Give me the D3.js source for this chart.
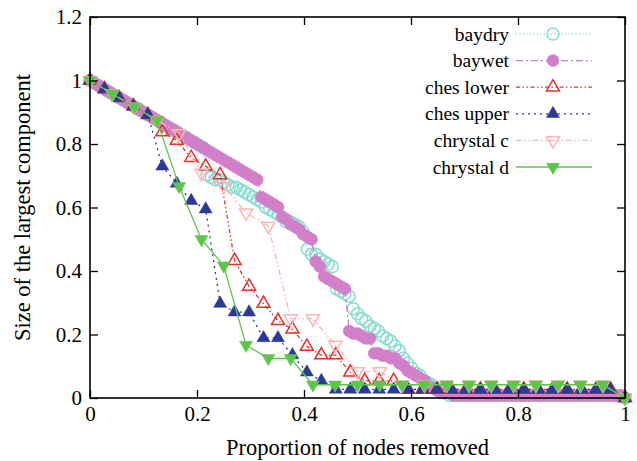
<!DOCTYPE html>
<html>
<head>
<meta charset="utf-8">
<script src="https://cdn.jsdelivr.net/npm/d3@7"></script>
<style>
  body { margin: 0; background: #fff; }
  text { font-family: "Liberation Serif", "Times New Roman", serif; fill: #000; }
</style>
</head>
<body>
<div id="chart"></div>
<script>
// network sizes
const N_BAY = 128;
const N_CHES = 37;
const N_CHRYS = 24;

// size of largest component after each removal
const baydry = [128,127,126,125,124,123,122,121,120,119,118,117,116,115,114,113,112,111,110,109,108,107,106,105,104,103,102,101,
  90,89,88,88,87,86,85,85,84,83,82,81,
  80,79,77,76,75,74,73,71,71,70,69,67,
  60,58,58,56,55,54,53,
  44,43,42,41,
  36,34,32,31,29,28,27,25,24,
  23,21,19,16,14,12,10,9,7,6,5,4,3,2,
  1,1,1,1,1,1,1,1,1,1,1,1,1,1,1,1,1,1,1,1,1,1,1,1,1,1,1,1,1,1,1,1,1,1,1,1,1,1,1,1,1,1,
  0];
const baywet = [128,127,126,125,124,123,122,121,120,119,118,117,116,115,114,113,112,111,110,109,108,107,106,105,104,103,102,101,100,99,98,97,96,95,94,93,92,91,90,89,88,
  81,80,79,78,77,
  73,72,70,69,68,66,65,64,
  55,53,
  49,48,47,46,45,44,
  27,26,26,25,24,24,
  18,18,17,17,16,16,
  14,13,11,10,9,8,7,5,4,3,2,2,2,1,
  1,1,1,1,1,1,1,1,1,1,1,1,1,1,1,1,1,1,1,1,1,1,1,1,1,1,1,1,1,1,1,1,1,1,1,1,1,1,1,1,
  0];
const chesLower = [37,36,35,34,33,31,30,28,27,26,16,13,11,9,8,6,5,5,3,2,2,2,
  1,1,1,1,1,1,1,1,1,1,1,1,1,1,1, 0];
const chesUpper = [37,36,35,34,33,27,25,23,22,11,10,10,7,7,5,3,2,
  1,1,1,1,1,1,1,1,1,1,1,1,1,1,1,1,1,1,1,1, 0];
const chrystalC = [24,23,22,21,20,17,16,14,13,6,6,4,2,2, 1,1,1,1,1,1,1,1,1,1, 0];
const chrystalD = [24,23,22,21,16,12,10,4,3,3, 1,1,1,1,1,1,1,1,1,1,1,1,1,1, 0];

const xTicks = [0, 0.2, 0.4, 0.6, 0.8, 1];
const yTicks = [0, 0.2, 0.4, 0.6, 0.8, 1, 1.2];

const series = [
  {name: "baydry", sizes: baydry, n: N_BAY, color: "#86dccf", dash: "1,2.5", marker: "circle", fill: false},
  {name: "baywet", sizes: baywet, n: N_BAY, color: "#d27fca", dash: "7,3,2,3", marker: "circle", fill: true},
  {name: "ches lower", sizes: chesLower, n: N_CHES, color: "#e4322b", dash: "4,2.5,1.5,2.5,1.5,2.5", marker: "up", fill: false},
  {name: "ches upper", sizes: chesUpper, n: N_CHES, color: "#2b3a98", dash: "2,4", marker: "up", fill: true},
  {name: "chrystal c", sizes: chrystalC, n: N_CHRYS, color: "#ffb3b3", dash: "6,2.5,1.5,2.5,1.5,2.5", marker: "down", fill: false},
  {name: "chrystal d", sizes: chrystalD, n: N_CHRYS, color: "#5dc64a", dash: null, marker: "down", fill: true}
];

const width = 637, height = 461;
const margin = {top: 17, right: 12, bottom: 63, left: 90};

const svg = d3.select("#chart").append("svg")
  .attr("width", width)
  .attr("height", height)
  .style("background", "#fff");

const x = d3.scaleLinear().domain([0, 1]).range([margin.left, width - margin.right]);
const y = d3.scaleLinear().domain([0, 1.2]).range([height - margin.bottom, margin.top]);

const fmt = d => String(+d.toFixed(1));

function markerPath(type) {
  if (type === "circle") return d3.symbol(d3.symbolCircle, Math.PI * 36)();
  const s = 13, h = s * 0.866;
  if (type === "up") return `M0,${-2 * h / 3}L${s / 2},${h / 3}L${-s / 2},${h / 3}Z`;
  return `M0,${2 * h / 3}L${s / 2},${-h / 3}L${-s / 2},${-h / 3}Z`;
}

function styleMarker(sel, d) {
  sel.attr("d", markerPath(d.marker))
    .attr("fill", d.fill ? d.color : "none")
    .attr("stroke", d.color)
    .attr("stroke-width", d.fill ? 0.5 : 1.5);
}

const line = d3.line().x(p => x(p.x)).y(p => y(p.y));

// series, drawn in plot order
series.forEach(s => {
  const pts = s.sizes.map((v, i) => ({x: i / (s.sizes.length - 1), y: v / s.n}));
  const g = svg.append("g").attr("class", "series");
  g.append("path")
    .datum(pts)
    .attr("d", line)
    .attr("fill", "none")
    .attr("stroke", s.color)
    .attr("stroke-width", 1.3)
    .attr("stroke-dasharray", s.dash);
  g.selectAll("path.pt")
    .data(pts)
    .enter()
    .append("path")
    .attr("class", "pt")
    .attr("transform", p => `translate(${x(p.x)},${y(p.y)})`)
    .each(function() { styleMarker(d3.select(this), s); });
});

// axes
const xAxis = svg.append("g")
  .attr("transform", `translate(0,${y(0)})`)
  .call(d3.axisBottom(x).tickValues(xTicks).tickSizeInner(-8).tickSizeOuter(0).tickPadding(8).tickFormat(fmt));
const yAxis = svg.append("g")
  .attr("transform", `translate(${x(0)},0)`)
  .call(d3.axisLeft(y).tickValues(yTicks).tickSizeInner(-8).tickSizeOuter(0).tickPadding(8).tickFormat(fmt));

svg.append("g")
  .attr("transform", `translate(0,${y(1.2)})`)
  .call(d3.axisTop(x).tickValues(xTicks).tickSizeInner(-8).tickSizeOuter(0).tickFormat(""));
svg.append("g")
  .attr("transform", `translate(${x(1)},0)`)
  .call(d3.axisRight(y).tickValues(yTicks).tickSizeInner(-8).tickSizeOuter(0).tickFormat(""));

svg.selectAll(".domain").remove();
svg.selectAll(".tick line").attr("stroke", "#000").attr("stroke-width", 1.3);
svg.selectAll(".tick text")
  .style("font-size", "21px")
  .style("font-family", "'Liberation Serif', serif");

svg.append("rect")
  .attr("x", x(0))
  .attr("y", y(1.2))
  .attr("width", x(1) - x(0))
  .attr("height", y(0) - y(1.2))
  .attr("fill", "none")
  .attr("stroke", "#000")
  .attr("stroke-width", 1.6);

svg.append("text")
  .attr("x", (x(0) + x(1)) / 2)
  .attr("y", 455)
  .attr("text-anchor", "middle")
  .style("font-size", "22.5px")
  .text("Proportion of nodes removed");

svg.append("text")
  .attr("transform", "rotate(-90)")
  .attr("x", -(y(0) + y(1.2)) / 2)
  .attr("y", 30)
  .attr("text-anchor", "middle")
  .style("font-size", "22.5px")
  .text("Size of the largest component");

// legend
const legend = svg.append("g").attr("transform", "translate(0,34)");
const items = legend.selectAll("g")
  .data(series)
  .enter()
  .append("g")
  .attr("transform", (d, i) => `translate(0,${i * 26.6})`);

items.append("text")
  .attr("x", 509)
  .attr("y", 6.5)
  .attr("text-anchor", "end")
  .style("font-size", "19.5px")
  .text(d => d.name);

items.append("line")
  .attr("x1", 516)
  .attr("x2", 592)
  .attr("stroke", d => d.color)
  .attr("stroke-width", 1.3)
  .attr("stroke-dasharray", d => d.dash);

items.append("path")
  .attr("transform", "translate(553,0)")
  .each(function(d) { styleMarker(d3.select(this), d); });
</script>
</body>
</html>
